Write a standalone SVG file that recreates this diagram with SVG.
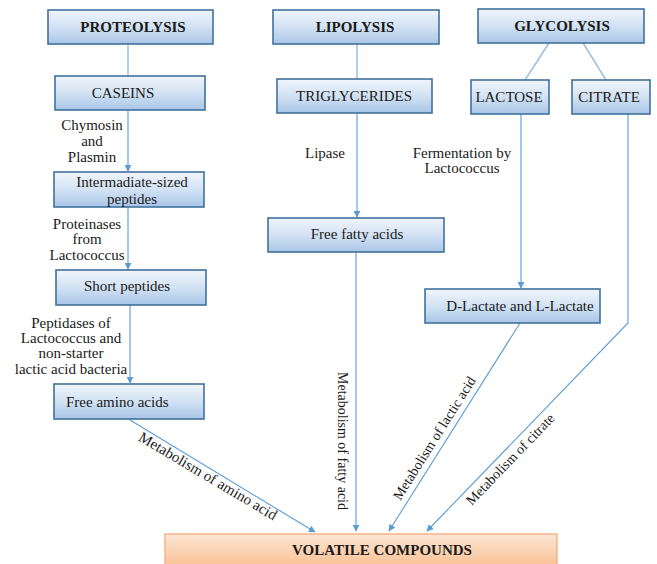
<svg xmlns="http://www.w3.org/2000/svg" width="657" height="564" viewBox="0 0 657 564" font-family="'Liberation Serif','Times New Roman',serif">
<style>
.box{fill:url(#blue);stroke:#41719c;stroke-width:1.6}
.obox{fill:url(#orange);stroke:#f4b183;stroke-width:1.4}
.t{font-family:"Liberation Serif","Times New Roman",serif;font-size:15px;fill:#1a1a1a}
.b{font-weight:bold}
.m{text-anchor:middle}
.rt{font-family:"Liberation Serif","Times New Roman",serif;font-size:14px;fill:#1a1a1a;text-anchor:middle}
.c{fill:none;stroke:#5b9bd5;stroke-width:1.1}
.h{fill:none;stroke:#9dc3e6;stroke-width:1.6}
</style>
<defs>
<linearGradient id="blue" x1="0" y1="0" x2="0" y2="1">
<stop offset="0" stop-color="#f0f5fb"/>
<stop offset="0.5" stop-color="#d2e2f3"/>
<stop offset="1" stop-color="#a9c6e7"/>
</linearGradient>
<linearGradient id="orange" x1="0" y1="0" x2="0" y2="1">
<stop offset="0" stop-color="#fde6d3"/>
<stop offset="1" stop-color="#f9bf92"/>
</linearGradient>
<marker id="ah" viewBox="0 0 10 10" refX="9" refY="5" markerWidth="7" markerHeight="7" markerUnits="userSpaceOnUse" orient="auto">
<path d="M0,0 L10,5 L0,10 z" fill="#5b9bd5"/>
</marker>
</defs>

<g id="connectors">
<line class="h" x1="128" y1="44" x2="128" y2="76"/>
<line class="h" x1="357" y1="44" x2="357" y2="79"/>
<line class="h" x1="549" y1="43" x2="525" y2="80"/>
<line class="h" x1="583" y1="43" x2="606" y2="80"/>
<line class="c" x1="128" y1="110" x2="128" y2="171" marker-end="url(#ah)"/>
<line class="c" x1="128" y1="207" x2="128" y2="269" marker-end="url(#ah)"/>
<line class="c" x1="130" y1="305" x2="130" y2="383" marker-end="url(#ah)"/>
<line class="c" x1="130" y1="420" x2="315" y2="532" marker-end="url(#ah)"/>
<line class="c" x1="357" y1="113" x2="357" y2="217" marker-end="url(#ah)"/>
<line class="c" x1="356" y1="252" x2="356" y2="531" marker-end="url(#ah)"/>
<line class="c" x1="521" y1="114" x2="521" y2="288" marker-end="url(#ah)"/>
<line class="c" x1="520" y1="323" x2="389" y2="531" marker-end="url(#ah)"/>
<polyline class="c" points="628,114 628,323 427,531" marker-end="url(#ah)"/>
<text class="t m" x="92" y="130">Chymosin</text>
<text class="t m" x="92" y="146">and</text>
<text class="t m" x="92" y="162">Plasmin</text>
<text class="t m" x="87" y="229">Proteinases</text>
<text class="t m" x="87" y="244">from</text>
<text class="t m" x="87" y="260">Lactococcus</text>
<text class="t m" x="71" y="328">Peptidases of</text>
<text class="t m" x="71" y="343">Lactococcus and</text>
<text class="t m" x="71" y="358">non-starter</text>
<text class="t m" x="71" y="374">lactic acid bacteria</text>
<text class="t m" x="325" y="158">Lipase</text>
<text class="t m" x="462" y="158">Fermentation by</text>
<text class="t m" x="462" y="173">Lactococcus</text>
<text class="rt" transform="translate(208,476) rotate(30.7)" y="5" style="font-size:15px">Metabolism of amino acid</text>
<text class="rt" transform="translate(343,441) rotate(90)" y="5">Metabolism of fatty acid</text>
<text class="rt" transform="translate(434,438) rotate(-57.8)" y="5">Metabolism of lactic acid</text>
<text class="rt" transform="translate(510,459) rotate(-46.1)" y="5">Metabolism of citrate</text>
</g>

<g id="proteolysis"><rect class="box" x="48" y="10" width="165" height="34"/><text class="t b m" x="133" y="32">PROTEOLYSIS</text></g>
<g id="lipolysis"><rect class="box" x="273" y="10" width="166" height="34"/><text class="t b m" x="355" y="32">LIPOLYSIS</text></g>
<g id="glycolysis"><rect class="box" x="478" y="9" width="166" height="34"/><text class="t b m" x="562" y="31">GLYCOLYSIS</text></g>
<g id="caseins"><rect class="box" x="55" y="76" width="150" height="34"/><text class="t m" x="123" y="98">CASEINS</text></g>
<g id="triglycerides"><rect class="box" x="277" y="79" width="155" height="34"/><text class="t m" x="354" y="101">TRIGLYCERIDES</text></g>
<g id="lactose"><rect class="box" x="471" y="80" width="78" height="34"/><text class="t m" x="509" y="102">LACTOSE</text></g>
<g id="citrate"><rect class="box" x="572" y="80" width="78" height="34"/><text class="t m" x="609" y="102">CITRATE</text></g>
<g id="intermediate"><rect class="box" x="54" y="172" width="150" height="35"/><text class="t m" x="132" y="187">Intermadiate-sized</text><text class="t m" x="132" y="204">peptides</text></g>
<g id="short-peptides"><rect class="box" x="56" y="270" width="150" height="35"/><text class="t m" x="127" y="291">Short peptides</text></g>
<g id="free-amino-acids"><rect class="box" x="54" y="384" width="150" height="35"/><text class="t" x="66" y="407">Free amino acids</text></g>
<g id="free-fatty-acids"><rect class="box" x="268" y="218" width="176" height="34"/><text class="t m" x="357" y="239">Free fatty acids</text></g>
<g id="lactate"><rect class="box" x="425" y="289" width="175" height="34"/><text class="t m" x="520" y="311">D-Lactate and L-Lactate</text></g>
<g id="volatile"><rect class="obox" x="165" y="534" width="392" height="34"/><text class="t b m" x="382" y="555">VOLATILE COMPOUNDS</text></g>
</svg>
